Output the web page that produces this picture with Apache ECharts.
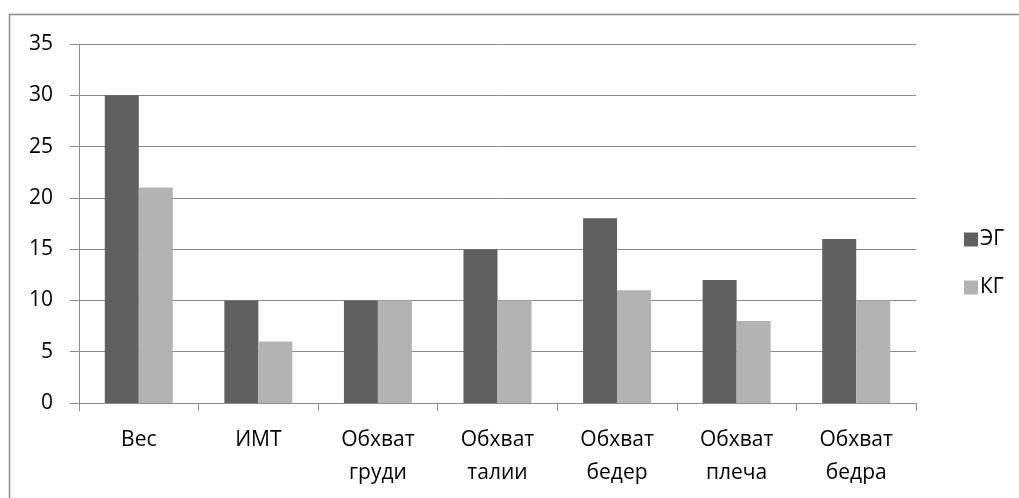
<!DOCTYPE html>
<html>
<head>
<meta charset="utf-8">
<style>
  html, body { margin: 0; padding: 0; background: #fff; }
  #chart { width: 1019px; height: 498px; }
</style>
<script src="https://cdn.jsdelivr.net/npm/echarts@6/dist/echarts.min.js"></script>
</head>
<body>
<div id="chart"></div>
<script>
// Categories along the x axis
const categories = ['Вес', 'ИМТ', 'Обхват\nгруди', 'Обхват\nталии', 'Обхват\nбедер', 'Обхват\nплеча', 'Обхват\nбедра'];
// Experimental group
const egValues = [30, 10, 10, 15, 18, 12, 16];
// Control group
const kgValues = [21, 6, 10, 10, 11, 8, 10];
const seriesNames = ['ЭГ', 'КГ'];

const FONT = '"Open Sans", sans-serif';
const AXIS_GRAY = '#8c8c8c';

const chart = echarts.init(document.getElementById('chart'), null, { renderer: 'canvas' });
chart.setOption({
  animation: false,
  backgroundColor: '#ffffff',
  graphic: [{
    type: 'rect',
    shape: { x: 9.5, y: 14.5, width: 1100, height: 600 },
    style: { fill: 'none', stroke: '#8a8a8a', lineWidth: 1.5 },
    silent: true
  }],
  grid: { left: 79, right: 103, top: 44, bottom: 95, containLabel: false },
  legend: {
    orient: 'vertical',
    left: 959,
    top: 224,
    itemWidth: 14,
    itemHeight: 14,
    itemGap: 27,
    icon: 'rect',
    textStyle: { fontFamily: FONT, fontSize: 21, color: '#000', padding: [0, 0, 0, -3] },
    data: seriesNames
  },
  xAxis: {
    type: 'category',
    data: categories,
    axisLine: { lineStyle: { color: AXIS_GRAY, width: 1 } },
    axisTick: { show: true, length: 8, alignWithLabel: false, lineStyle: { color: AXIS_GRAY } },
    axisLabel: { fontFamily: FONT, fontSize: 21, color: '#000', margin: 21, lineHeight: 33, interval: 0 }
  },
  yAxis: {
    type: 'value',
    min: 0,
    max: 35,
    interval: 5,
    axisLine: { show: true, lineStyle: { color: AXIS_GRAY, width: 1 } },
    axisTick: { show: true, length: 9, lineStyle: { color: AXIS_GRAY } },
    splitLine: { lineStyle: { color: AXIS_GRAY, width: 1 } },
    axisLabel: { fontFamily: FONT, fontSize: 21, color: '#000', margin: 26 }
  },
  series: [
    { name: seriesNames[0], type: 'bar', data: egValues, barWidth: 34, barGap: '0%', itemStyle: { color: '#606060' } },
    { name: seriesNames[1], type: 'bar', data: kgValues, barWidth: 34, barGap: '0%', itemStyle: { color: '#b3b3b3' } }
  ]
});
</script>
</body>
</html>
